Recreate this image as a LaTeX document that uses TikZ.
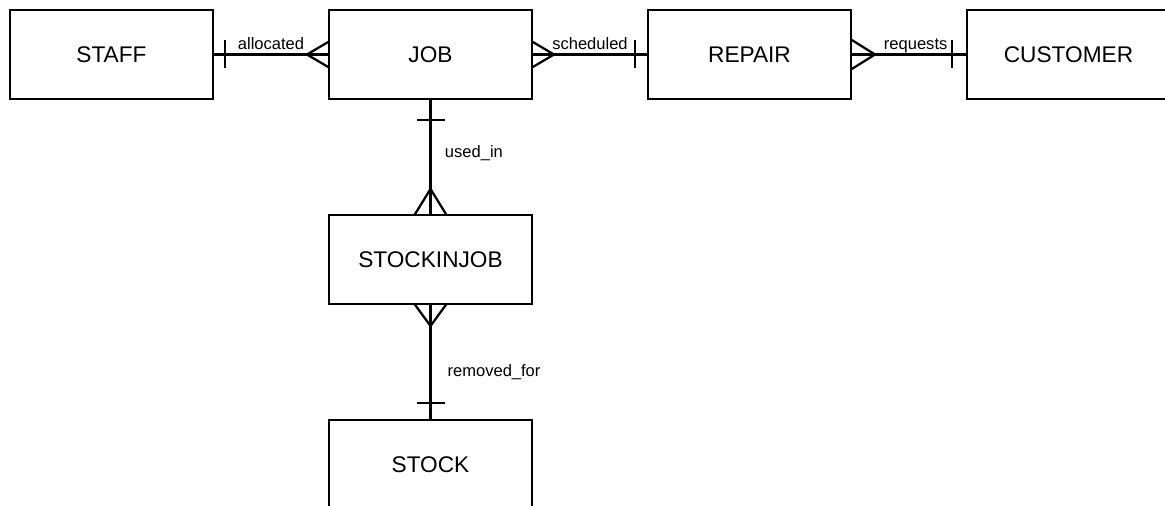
\documentclass[tikz,border=0pt]{standalone}
\usepackage{fontspec}
\setmainfont{Liberation Sans}
\usetikzlibrary{positioning,calc}
\tikzset{
  entity/.style={draw, line width=1.7pt, minimum width=152.25pt,
                 minimum height=66.75pt, outer sep=0pt,
                 font=\fontsize{17}{20}\selectfont, fill=white},
  rel/.style={line width=1.7pt},
  rellbl/.style={font=\fontsize{12.4}{14}\selectfont, inner sep=3pt,
                 text depth=0pt},
}
% crow's foot and single bar ends (offsets in px)
\newcommand{\crowfoot}[3]{%
  \draw[rel] ($(#1)+(#2)$) -- ($(#1)+(#3)$);
  \draw[rel] ($(#1)+(#2)$) -- ($(#1)-(#3)$);}
\newcommand{\onebar}[3]{%
  \draw[rel] ($(#1)+(#2)+(#3)$) -- ($(#1)+(#2)-(#3)$);}
\begin{document}
\begin{tikzpicture}[x=0.75pt, y=-0.75pt, node distance=87pt]
    \useasboundingbox (0,0) rectangle (1165,506);
    \node[entity] (staff) at (111.5,54.5) {STAFF};
    \node[entity, right=of staff] (job) {JOB};
    \node[entity, right=of job] (repair) {REPAIR};
    \node[entity, right=of repair] (customer) {CUSTOMER};
    \node[entity, below=of job] (sij) {STOCKINJOB};
    \node[entity, below=of sij] (stock) {STOCK};
    % relationships
    \draw[rel] (staff) -- node[rellbl, above] {allocated} (job);
    \onebar{staff.east}{12,0}{0,14}
    \crowfoot{job.west}{-22,0}{0,13}
    \draw[rel] (job) -- node[rellbl, above] {scheduled} (repair);
    \crowfoot{job.east}{22,0}{0,13}
    \onebar{repair.west}{-13,0}{0,14}
    \draw[rel] (repair) -- node[rellbl, above, xshift=5pt] {requests} (customer);
    \crowfoot{repair.east}{24,0}{0,15}
    \onebar{customer.west}{-15,0}{0,14}
    \draw[rel] (job) -- node[rellbl, right=7pt, pos=0.45] {used\_in} (sij);
    \onebar{job.south}{0,21}{14,0}
    \crowfoot{sij.north}{0,-26}{16,0}
    \draw[rel] (sij) -- node[rellbl, right=9pt, pos=0.57] {removed\_for} (stock);
    \crowfoot{sij.south}{0,22}{16,0}
    \onebar{stock.north}{0,-17}{14,0}
  \end{tikzpicture}
\end{document}
